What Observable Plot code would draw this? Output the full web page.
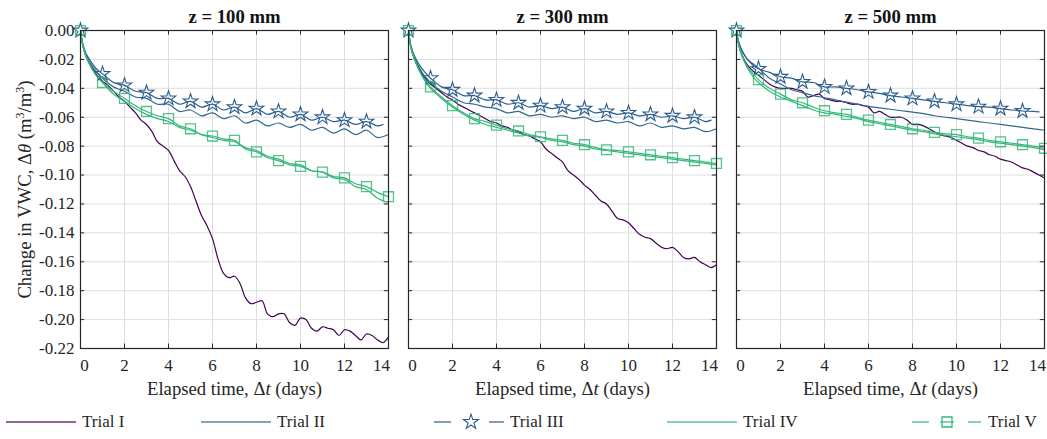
<!DOCTYPE html>
<html>
<head>
<meta charset="utf-8">
<script src="https://cdn.jsdelivr.net/npm/d3@7"></script>
<script src="https://cdn.jsdelivr.net/npm/@observablehq/plot@0.6"></script>
<style>
  html, body { margin: 0; padding: 0; background: #fff; }
  #wrap { position: relative; width: 1047px; height: 439px; font-family: "Liberation Serif", "Times New Roman", Times, serif; }
  #legend { position: absolute; left: 0; top: 405px; width: 1047px; height: 34px; }
  .item { position: absolute; top: 0; height: 34px; display: flex; align-items: center; font-size: 17px; color: #262626; }
  .item svg { display: block; margin-right: 6px; }
</style>
</head>
<body>
<div id="wrap"><div id="chart"></div><div id="legend"></div></div>
<script>
// ---------- data ----------
const panels = ["100", "300", "500"];
const trials = ["Trial I", "Trial II", "Trial III", "Trial IV", "Trial V"];
const trialColors = ["#440154", "#31688e", "#2b5e8c", "#35b779", "#35b779"];
const xTicks = [0, 2, 4, 6, 8, 10, 12, 14];
const yTicks = [0, -0.02, -0.04, -0.06, -0.08, -0.10, -0.12, -0.14, -0.16, -0.18, -0.20, -0.22];

// half-day grid
const tA = [0,0.1,0.25,0.5,0.75,1,1.5,2,2.5,3,3.5,4,4.5,5,5.5,6,6.5,7,7.5,8,8.5,9,9.5,10,10.5,11,11.5,12,12.5,13,13.5,14];
// half-day grid for Trial III (ends before day 14)
const tS = [0,0.1,0.25,0.5,0.75,1,1.5,2,2.5,3,3.5,4,4.5,5,5.5,6,6.5,7,7.5,8,8.5,9,9.5,10,10.5,11,11.5,12,12.5,13,13.5,13.75];
// quarter-day grid
const tB = [0,0.1,0.25,0.5,0.75,1,1.25,1.5,1.75,2,2.25,2.5,2.75,3,3.25,3.5,3.75,4,4.25,4.5,4.75,5,5.25,5.5,5.75,6,6.25,6.5,6.75,7,7.25,7.5,7.75,8,8.25,8.5,8.75,9,9.25,9.5,9.75,10,10.25,10.5,10.75,11,11.25,11.5,11.75,12,12.25,12.5,12.75,13,13.25,13.5,13.75,14];

// z = 100 mm
const z100_I = [0,-0.010,-0.018,-0.025,-0.031,
  -0.035,-0.038,-0.042,-0.046, -0.049,-0.053,-0.057,-0.062, -0.065,-0.070,-0.077,-0.080,
  -0.083,-0.090,-0.097,-0.101, -0.108,-0.118,-0.128,-0.135, -0.144,-0.158,-0.168,-0.171,
  -0.170,-0.175,-0.185,-0.189, -0.188,-0.187,-0.196,-0.198, -0.196,-0.196,-0.202,-0.204,
  -0.199,-0.200,-0.206,-0.208, -0.205,-0.206,-0.207,-0.211, -0.207,-0.208,-0.211,-0.214,
  -0.210,-0.211,-0.214,-0.216, -0.212];
const z100_II = [0,-0.009,-0.017,-0.024,-0.029,-0.033,-0.039,-0.042,-0.046,-0.047,-0.051,-0.051,-0.056,-0.055,-0.059,-0.057,-0.061,-0.059,-0.064,-0.062,-0.066,-0.064,-0.067,-0.065,-0.069,-0.067,-0.071,-0.068,-0.072,-0.069,-0.074,-0.072];
const z100_III = [0,-0.009,-0.016,-0.022,-0.027,-0.030,-0.036,-0.038,-0.042,-0.043,-0.047,-0.047,-0.051,-0.049,-0.053,-0.051,-0.055,-0.053,-0.057,-0.054,-0.058,-0.056,-0.060,-0.058,-0.062,-0.060,-0.063,-0.062,-0.065,-0.063,-0.066,-0.065];
const z100_IV = [0,-0.010,-0.018,-0.026,-0.032,-0.036,-0.044,-0.049,-0.054,-0.058,-0.061,-0.063,-0.067,-0.069,-0.072,-0.074,-0.076,-0.077,-0.081,-0.083,-0.087,-0.089,-0.092,-0.093,-0.097,-0.098,-0.102,-0.103,-0.108,-0.110,-0.116,-0.119];
const z100_V = [0,-0.010,-0.018,-0.026,-0.032,-0.036,-0.042,-0.047,-0.052,-0.056,-0.059,-0.061,-0.066,-0.068,-0.072,-0.073,-0.075,-0.076,-0.082,-0.084,-0.088,-0.090,-0.093,-0.094,-0.097,-0.098,-0.101,-0.102,-0.106,-0.108,-0.112,-0.115];

// z = 300 mm
const z300_I = [0,-0.011,-0.019,-0.027,-0.033,
  -0.037,-0.040,-0.043,-0.046, -0.048,-0.051,-0.053,-0.055, -0.057,-0.059,-0.061,-0.063,
  -0.064,-0.066,-0.067,-0.069, -0.070,-0.072,-0.073,-0.075, -0.077,-0.082,-0.085,-0.088,
  -0.091,-0.097,-0.100,-0.103, -0.107,-0.110,-0.114,-0.118, -0.120,-0.125,-0.130,-0.131,
  -0.133,-0.137,-0.141,-0.143, -0.144,-0.147,-0.150,-0.151, -0.150,-0.153,-0.157,-0.158,
  -0.157,-0.160,-0.162,-0.164, -0.162];
const z300_II = [0,-0.010,-0.018,-0.026,-0.032,-0.036,-0.042,-0.046,-0.050,-0.051,-0.053,-0.054,-0.057,-0.056,-0.059,-0.058,-0.060,-0.059,-0.061,-0.060,-0.063,-0.062,-0.064,-0.063,-0.066,-0.064,-0.067,-0.066,-0.068,-0.067,-0.070,-0.068];
const z300_III = [0,-0.010,-0.017,-0.024,-0.029,-0.033,-0.039,-0.041,-0.045,-0.045,-0.048,-0.048,-0.051,-0.050,-0.053,-0.052,-0.054,-0.053,-0.056,-0.054,-0.057,-0.056,-0.058,-0.057,-0.059,-0.058,-0.060,-0.059,-0.061,-0.060,-0.063,-0.062];
const z300_IV = [0,-0.011,-0.019,-0.028,-0.035,-0.040,-0.047,-0.053,-0.058,-0.062,-0.065,-0.067,-0.069,-0.071,-0.073,-0.074,-0.076,-0.077,-0.079,-0.080,-0.082,-0.083,-0.084,-0.085,-0.086,-0.087,-0.088,-0.089,-0.090,-0.091,-0.092,-0.093];
const z300_V = [0,-0.011,-0.019,-0.028,-0.034,-0.039,-0.046,-0.052,-0.057,-0.061,-0.063,-0.0655,-0.068,-0.0695,-0.072,-0.0735,-0.075,-0.076,-0.078,-0.079,-0.081,-0.0825,-0.083,-0.084,-0.085,-0.086,-0.087,-0.088,-0.089,-0.090,-0.091,-0.092];

// z = 500 mm
const z500_I = [0,-0.010,-0.017,-0.024,-0.028,
  -0.031,-0.034,-0.037,-0.039, -0.040,-0.040,-0.040,-0.041, -0.042,-0.046,-0.045,-0.044,
  -0.047,-0.048,-0.049,-0.049, -0.050,-0.051,-0.051,-0.052, -0.053,-0.057,-0.056,-0.058,
  -0.060,-0.060,-0.060,-0.062, -0.065,-0.065,-0.066,-0.068, -0.070,-0.072,-0.073,-0.074,
  -0.076,-0.078,-0.080,-0.081, -0.083,-0.084,-0.086,-0.087, -0.089,-0.090,-0.091,-0.093,
  -0.095,-0.096,-0.098,-0.100, -0.102];
const z500_II = [0,-0.008,-0.014,-0.020,-0.023,-0.026,-0.033,-0.037,-0.041,-0.043,-0.045,-0.0465,-0.048,-0.0495,-0.051,-0.0525,-0.0535,-0.0545,-0.0555,-0.0565,-0.0575,-0.059,-0.060,-0.061,-0.062,-0.063,-0.064,-0.065,-0.066,-0.067,-0.068,-0.069];
const z500_III = [0,-0.008,-0.014,-0.020,-0.024,-0.0265,-0.029,-0.032,-0.033,-0.0355,-0.036,-0.039,-0.039,-0.040,-0.041,-0.0425,-0.0435,-0.045,-0.046,-0.047,-0.048,-0.049,-0.050,-0.051,-0.052,-0.0527,-0.053,-0.054,-0.055,-0.0557,-0.056,-0.0563];
const z500_IV = [0,-0.010,-0.018,-0.026,-0.032,-0.036,-0.042,-0.046,-0.049,-0.052,-0.055,-0.057,-0.058,-0.0595,-0.061,-0.063,-0.0645,-0.066,-0.0675,-0.069,-0.070,-0.0715,-0.0725,-0.0735,-0.0745,-0.0755,-0.077,-0.078,-0.079,-0.080,-0.081,-0.0825];
const z500_V = [0,-0.010,-0.017,-0.025,-0.030,-0.034,-0.040,-0.044,-0.048,-0.050,-0.053,-0.0555,-0.057,-0.058,-0.060,-0.062,-0.0635,-0.065,-0.0665,-0.068,-0.069,-0.0705,-0.0715,-0.072,-0.0735,-0.0745,-0.076,-0.077,-0.078,-0.079,-0.080,-0.0815];

// ---------- table built from the arrays ----------
const seriesList = [
  ["100", "Trial I", tB, z100_I], ["100", "Trial II", tA, z100_II], ["100", "Trial III", tS, z100_III], ["100", "Trial IV", tA, z100_IV], ["100", "Trial V", tA, z100_V],
  ["300", "Trial I", tB, z300_I], ["300", "Trial II", tA, z300_II], ["300", "Trial III", tS, z300_III], ["300", "Trial IV", tA, z300_IV], ["300", "Trial V", tA, z300_V],
  ["500", "Trial I", tB, z500_I], ["500", "Trial II", tA, z500_II], ["500", "Trial III", tS, z500_III], ["500", "Trial IV", tA, z500_IV], ["500", "Trial V", tA, z500_V]
];
const rows = [];
for (const [panel, trial, ts, vs] of seriesList) {
  ts.forEach((t, i) => rows.push({panel, trial, t, v: vs[i]}));
}
const colorOf = Object.fromEntries(trials.map((k, i) => [k, trialColors[i]]));
const starRows = rows.filter(d => d.trial === "Trial III" && Number.isInteger(d.t));
const squareRows = rows.filter(d => d.trial === "Trial V" && Number.isInteger(d.t));

// ---------- chart ----------
const FONT = '"Liberation Serif", "Times New Roman", Times, serif';
const W = 1047, H = 405, mL = 79, mR = 3, mT = 30, mB = 57;
const padIn = 0.061;
const step = (W - mL - mR) / (panels.length - padIn);
const bandW = step * (1 - padIn);
const frameH = H - mT - mB;
const tick = 4.5;
const dark = "#262626";
const labelSize = 18.7;
const X_LABEL = "Elapsed time, Δt (days)";
const Y_LABEL = "Change in VWC, Δθ (m3/m3)";

const lineMarks = trials.map(tr => Plot.line(rows.filter(d => d.trial === tr), {
  x: "t", y: "v", fx: "panel", stroke: colorOf[tr], strokeWidth: 1.2, curve: "catmull-rom"
}));

const xAxisOpts = {tickSize: 0, tickPadding: 10, tickFormat: d => String(d), label: null, fill: dark};

const chart = Plot.plot({
  width: W, height: H,
  marginLeft: mL, marginRight: mR, marginTop: mT, marginBottom: mB,
  style: {fontFamily: FONT, fontSize: "17px", color: dark, background: "#fff"},
  fx: {domain: panels, paddingInner: padIn, paddingOuter: 0, axis: null, label: null},
  x: {domain: [0, 14]},
  y: {domain: [-0.22, 0]},
  marks: [
    Plot.gridX(xTicks, {stroke: "#dedede", strokeOpacity: 1, strokeWidth: 1}),
    Plot.gridY(yTicks, {stroke: "#dedede", strokeOpacity: 1, strokeWidth: 1}),
    ...lineMarks,
    Plot.dot(starRows, {x: "t", y: "v", fx: "panel", symbol: "star", r: 4.6, stroke: colorOf["Trial III"], fill: "none", strokeWidth: 1.1}),
    Plot.dot(squareRows, {x: "t", y: "v", fx: "panel", symbol: "square", r: 5.6, stroke: colorOf["Trial V"], strokeOpacity: 0.85, fill: "none", strokeWidth: 1.3}),
    Plot.frame({stroke: dark, strokeWidth: 1.2}),
    // inward ticks on all four sides
    Plot.ruleX(xTicks, {x: d => d, insetTop: frameH - tick, stroke: dark}),
    Plot.ruleX(xTicks, {x: d => d, insetBottom: frameH - tick, stroke: dark}),
    Plot.ruleY(yTicks, {y: d => d, insetRight: bandW - tick, stroke: dark}),
    Plot.ruleY(yTicks, {y: d => d, insetLeft: bandW - tick, stroke: dark}),
    // tick labels; the end labels sit slightly inward as in the original
    Plot.axisX(xTicks.slice(1, -1), xAxisOpts),
    Plot.axisX(xTicks.slice(0, 1), {...xAxisOpts, dx: 4}),
    Plot.axisX(xTicks.slice(-1), {...xAxisOpts, dx: -7}),
    Plot.axisY(yTicks, {tickSize: 0, tickPadding: 6, tickFormat: d => d.toFixed(2), label: null, fill: dark}),
    Plot.text(panels, {fx: d => d, text: d => `z = ${d} mm`, frameAnchor: "top", lineAnchor: "middle", dy: -13, fontWeight: "bold", fontSize: labelSize, fill: "#111"}),
    Plot.text([X_LABEL], {text: d => d, frameAnchor: "bottom", lineAnchor: "middle", dy: 41, fontSize: labelSize, fill: dark}),
    Plot.text([Y_LABEL], {fx: () => "100", text: d => d, frameAnchor: "left", textAnchor: "middle", lineAnchor: "middle", dx: -55, rotate: -90, fontSize: labelSize, fill: dark})
  ]
});
document.getElementById("chart").appendChild(chart);

// rich text for the axis labels (italic symbols, superscripts)
function rich(textEl, parts) {
  while (textEl.firstChild) textEl.removeChild(textEl.firstChild);
  for (const p of parts) {
    const ts = document.createElementNS("http://www.w3.org/2000/svg", "tspan");
    ts.textContent = p.s;
    if (p.i) ts.setAttribute("font-style", "italic");
    if (p.sup) { ts.setAttribute("font-size", "12"); ts.setAttribute("dy", "-7"); }
    if (p.down) ts.setAttribute("dy", "7");
    textEl.appendChild(ts);
  }
}
chart.querySelectorAll("text").forEach(t => {
  if (t.textContent === X_LABEL) {
    rich(t, [{s: "Elapsed time, Δ"}, {s: "t", i: true}, {s: " (days)"}]);
  } else if (t.textContent === Y_LABEL) {
    rich(t, [{s: "Change in VWC, Δ"}, {s: "θ", i: true}, {s: " (m"}, {s: "3", sup: true}, {s: "/m", down: true}, {s: "3", sup: true}, {s: ")", down: true}]);
  }
});

// ---------- legend ----------
const legendX = [6, 201, 434, 667, 912];
const legend = document.getElementById("legend");
const starPath = d3.symbol(d3.symbolStar, 70)();
const squarePath = d3.symbol(d3.symbolSquare, 100)();
trials.forEach((tr, i) => {
  const item = document.createElement("div");
  item.className = "item";
  item.style.left = legendX[i] + "px";
  const c = trialColors[i];
  let inner;
  if (tr === "Trial III") {
    inner = `<line x1="0" x2="17" y1="9" y2="9" stroke="${c}" stroke-opacity="0.6" stroke-width="2"/>
             <path d="${starPath}" transform="translate(37,9)" fill="none" stroke="${c}" stroke-width="1.1"/>
             <line x1="55" x2="70" y1="9" y2="9" stroke="${c}" stroke-opacity="0.6" stroke-width="2"/>`;
  } else if (tr === "Trial V") {
    inner = `<line x1="0" x2="17" y1="9" y2="9" stroke="${c}" stroke-opacity="0.6" stroke-width="2"/>
             <line x1="28" x2="42" y1="9" y2="9" stroke="${c}" stroke-opacity="0.6" stroke-width="2"/>
             <path d="${squarePath}" transform="translate(35,9)" fill="none" stroke="${c}" stroke-width="1.3"/>
             <line x1="56" x2="69" y1="9" y2="9" stroke="${c}" stroke-opacity="0.6" stroke-width="2"/>`;
  } else {
    inner = `<line x1="0" x2="70" y1="9" y2="9" stroke="${c}" stroke-opacity="0.6" stroke-width="2"/>`;
  }
  item.innerHTML = `<svg width="70" height="18">${inner}</svg><span>${tr}</span>`;
  legend.appendChild(item);
});
</script>
</body>
</html>
